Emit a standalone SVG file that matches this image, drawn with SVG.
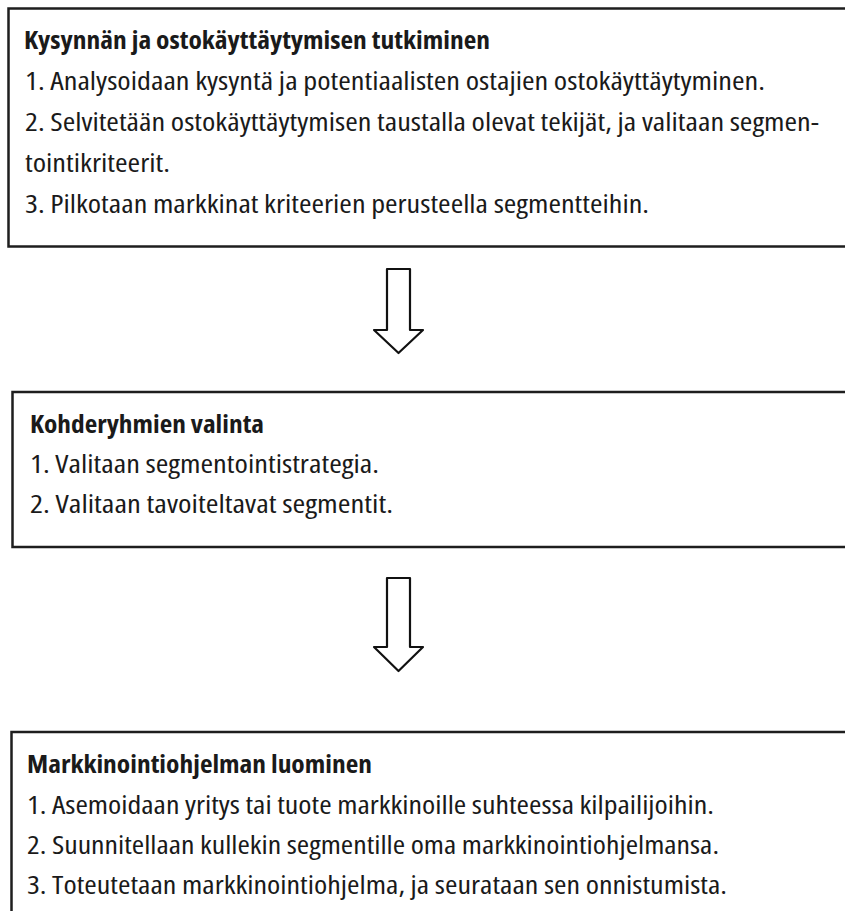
<svg xmlns="http://www.w3.org/2000/svg" width="845" height="911" viewBox="0 0 845 911">
<style>
.box{fill:#ffffff;stroke:#1e1e1e;stroke-width:2.5}
.t{font-family:"Open Sans","Noto Sans","Liberation Sans",sans-serif;font-size:25px;font-stretch:85%;fill:#1a1a1a}
.h{font-weight:bold}
.arrow{fill:#ffffff;stroke:#111111;stroke-width:2.2;stroke-linejoin:round}
</style>
<rect width="845" height="911" fill="#ffffff"/>
<g id="node-tutkiminen">
<rect class="box" x="8.5" y="8.5" width="850" height="238"/>
<text class="t h" x="24" y="49" textLength="466" lengthAdjust="spacingAndGlyphs">Kysynnän ja ostokäyttäytymisen tutkiminen</text>
<text class="t" x="25" y="90" textLength="740" lengthAdjust="spacingAndGlyphs">1. Analysoidaan kysyntä ja potentiaalisten ostajien ostokäyttäytyminen.</text>
<text class="t" x="25" y="131" textLength="794" lengthAdjust="spacingAndGlyphs">2. Selvitetään ostokäyttäytymisen taustalla olevat tekijät, ja valitaan segmen-</text>
<text class="t" x="25" y="172" textLength="145" lengthAdjust="spacingAndGlyphs">tointikriteerit.</text>
<text class="t" x="25" y="213" textLength="624" lengthAdjust="spacingAndGlyphs">3. Pilkotaan markkinat kriteerien perusteella segmentteihin.</text>
</g>
<g id="node-valinta">
<rect class="box" x="12.5" y="392" width="850" height="155"/>
<text class="t h" x="30" y="433" textLength="234" lengthAdjust="spacingAndGlyphs">Kohderyhmien valinta</text>
<text class="t" x="30" y="473" textLength="349" lengthAdjust="spacingAndGlyphs">1. Valitaan segmentointistrategia.</text>
<text class="t" x="30" y="513" textLength="363" lengthAdjust="spacingAndGlyphs">2. Valitaan tavoiteltavat segmentit.</text>
</g>
<g id="node-luominen">
<rect class="box" x="11.5" y="732" width="850" height="200"/>
<text class="t h" x="27" y="773" textLength="345" lengthAdjust="spacingAndGlyphs">Markkinointiohjelman luominen</text>
<text class="t" x="27" y="814" textLength="687" lengthAdjust="spacingAndGlyphs">1. Asemoidaan yritys tai tuote markkinoille suhteessa kilpailijoihin.</text>
<text class="t" x="27" y="854" textLength="692" lengthAdjust="spacingAndGlyphs">2. Suunnitellaan kullekin segmentille oma markkinointiohjelmansa.</text>
<text class="t" x="27" y="894" textLength="700" lengthAdjust="spacingAndGlyphs">3. Toteutetaan markkinointiohjelma, ja seurataan sen onnistumista.</text>
</g>
<g id="connectors">
<path class="arrow" d="M387,269 H410 V330 H423 L398.5,353 L374,330 H387 Z"/>
<path class="arrow" d="M387,578 H410 V647 H423 L398.5,671 L374,647 H387 Z"/>
</g>
</svg>
